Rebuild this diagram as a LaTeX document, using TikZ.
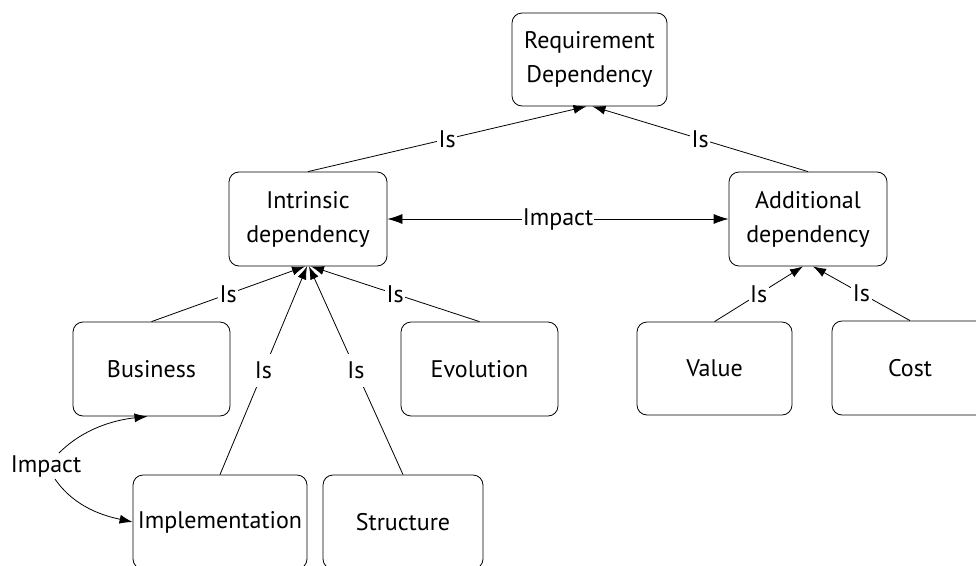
\documentclass[tikz,border=0pt]{standalone}
\usepackage{fontspec}
\setmainfont{PT Sans}
\usetikzlibrary{arrows.meta,calc}
\begin{document}
\begin{tikzpicture}[x=1pt,y=-1pt,
  box/.style={draw,rounded corners=10pt,line width=0.8pt,align=center,
    font=\fontsize{24}{34}\selectfont,inner sep=0pt},
  lbl/.style={fill=white,inner xsep=1.5pt,inner ysep=8pt,
    font=\fontsize{24}{26}\selectfont},
  conn/.style={line width=0.8pt,-{Latex[length=13pt,width=9pt]}},
  both/.style={line width=0.8pt,{Latex[length=15pt,width=10pt]}-{Latex[length=15pt,width=10pt]}}]
\useasboundingbox (0,0) rectangle (976,565);
\clip (0,0) rectangle (976,565);

% boxes
\node[box,minimum width=155pt,minimum height=93pt] (req) at (589.5,59.5) {Requirement\\Dependency};
\node[box,minimum width=158pt,minimum height=94pt] (intr) at (308,219) {Intrinsic\\dependency};
\node[box,minimum width=158pt,minimum height=94pt] (addl) at (808,219) {Additional\\dependency};
\node[box,minimum width=157pt,minimum height=94pt] (bus) at (151.5,369) {Business};
\node[box,minimum width=157pt,minimum height=94pt] (evo) at (479.5,369) {Evolution};
\node[box,minimum width=155pt,minimum height=93pt] (val) at (714.5,368.5) {Value};
\node[box,minimum width=156pt,minimum height=94pt] (cost) at (910,368) {Cost};
\node[box,minimum width=174pt,minimum height=94pt] (impl) at (220,522) {Implementation};
\node[box,minimum width=160pt,minimum height=94pt] (struct) at (403,522) {Structure};

% generalisation edges
\draw[conn] (intr.north) -- node[lbl] {Is} ($(req.south)+(-3,0)$);
\draw[conn] (addl.north) -- node[lbl] {Is} ($(req.south)+(3,0)$);
\draw[conn] (bus.north) -- node[lbl] {Is} ($(intr.south)+(-3,0)$);
\draw[conn] (impl.north) -- node[lbl] {Is} ($(intr.south)+(-1,0)$);
\draw[conn] (struct.north) -- node[lbl] {Is} ($(intr.south)+(1,0)$);
\draw[conn] (evo.north) -- node[lbl] {Is} ($(intr.south)+(3,0)$);
\draw[conn] (val.north) -- node[lbl] {Is} ($(addl.south)+(-5,0)$);
\draw[conn] (cost.north) -- node[lbl] {Is} ($(addl.south)+(5,0)$);

% impact relations
\draw[both] (intr.east) -- node[lbl,inner xsep=1pt] {Impact} (addl.west);
\node[font=\fontsize{24}{26}\selectfont,inner sep=2pt] (imp) at (46,466) {Impact};
\draw[conn] (imp) .. controls (84,428) and (115,420) .. ($(bus.south)+(-4,0)$);
\draw[conn] (imp) .. controls (75,508) and (105,516) .. (impl.west);
\end{tikzpicture}
\end{document}
